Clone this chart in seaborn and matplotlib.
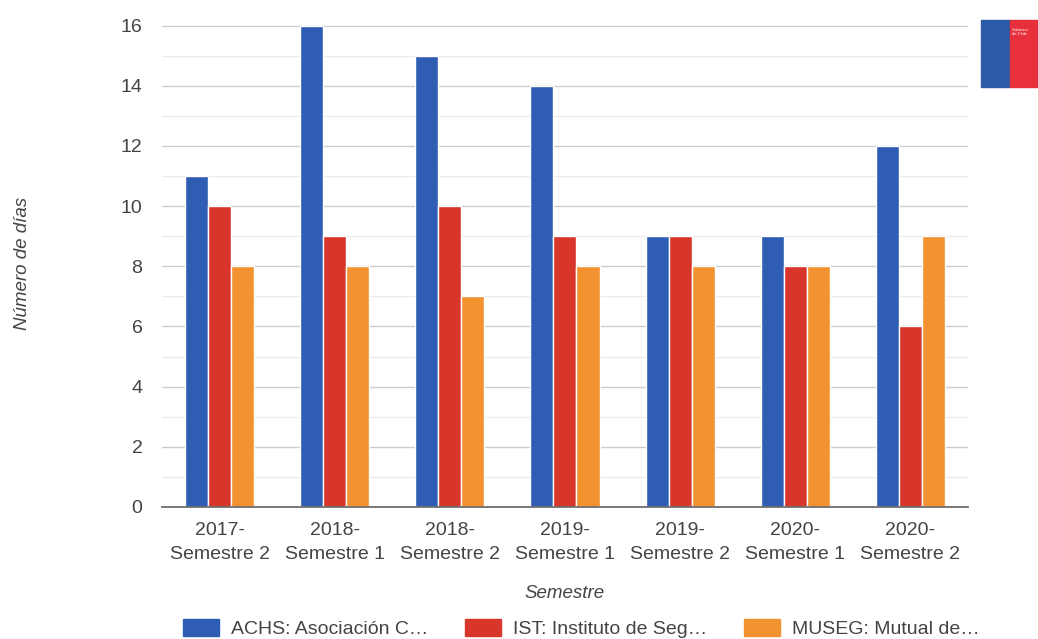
import pandas as pd
import matplotlib.pyplot as plt
import seaborn as sns
from matplotlib.patches import Rectangle

# Data
semestres = ['2017-\nSemestre 2', '2018-\nSemestre 1', '2018-\nSemestre 2', '2019-\nSemestre 1',
             '2019-\nSemestre 2', '2020-\nSemestre 1', '2020-\nSemestre 2']
series_names = ['ACHS: Asociación C…', 'IST: Instituto de Seg…', 'MUSEG: Mutual de…']
achs = [11, 16, 15, 14, 9, 9, 12]
ist = [10, 9, 10, 9, 9, 8, 6]
museg = [8, 8, 7, 8, 8, 8, 9]

colors = ['#2f5db3', '#d8352b', '#f29231']
text_color = '#444444'

# Long-form table for seaborn
rows = []
for name, vals in zip(series_names, [achs, ist, museg]):
    for sem, v in zip(semestres, vals):
        rows.append({'Semestre': sem, 'Mutual': name, 'Dias': v})
df = pd.DataFrame(rows)

sns.set_style('white')
plt.rcParams['font.family'] = ['Liberation Sans', 'DejaVu Sans']

fig = plt.figure(figsize=(10.38, 6.39), dpi=100)
ax = fig.add_axes([0.156, 0.2066, 0.7766, 0.7558])

sns.barplot(data=df, x='Semestre', y='Dias', hue='Mutual', palette=colors,
            width=0.6, saturation=1, ax=ax, legend=False)

ax.set_ylim(0, 16.05)
ax.set_xlim(-0.5, 6.5)
ax.set_yticks(range(0, 17, 2))
ax.set_yticks(range(1, 17, 2), minor=True)
ax.grid(axis='y', which='major', color='#cccccc', linewidth=1.0)
ax.grid(axis='y', which='minor', color='#ebebeb', linewidth=1.0)
ax.set_axisbelow(True)
for s in ['top', 'right', 'left']:
    ax.spines[s].set_visible(False)
ax.spines['bottom'].set_color('#6e6e6e')
ax.spines['bottom'].set_linewidth(1.3)
ax.tick_params(axis='both', which='both', length=0, labelsize=14, colors=text_color)
ax.tick_params(axis='x', pad=11)
ax.tick_params(axis='y', pad=14)
for lbl in ax.get_xticklabels():
    lbl.set_linespacing(1.5)

ax.set_xlabel('Semestre', fontsize=13.5, style='italic', color=text_color, labelpad=16)
ax.set_ylabel('')
fig.text(0.022, 0.588, 'Número de días', rotation=90, fontsize=13.5, style='italic',
         color=text_color, ha='center', va='center')

# legend
handles = [Rectangle((0, 0), 1, 1, color=c) for c in colors]
fig.legend(handles, series_names, loc='center', bbox_to_anchor=(0.56, 0.016),
           ncol=3, frameon=False, fontsize=14, labelcolor=text_color,
           handlelength=1.85, handleheight=0.9, columnspacing=1.9, handletextpad=0.62,
           borderpad=0, borderaxespad=0)

# Gobierno de Chile logo block (top right)
fig.patches.append(Rectangle((981 / 1038, 1 - 87 / 639), 29 / 1038, 67 / 639,
                             transform=fig.transFigure, color='#2a5aa8', zorder=5))
fig.patches.append(Rectangle((1010 / 1038, 1 - 87 / 639), 28 / 1038, 67 / 639,
                             transform=fig.transFigure, color='#e8303c', zorder=5))
fig.text(1012 / 1038, 1 - 32 / 639, 'Gobierno\nde Chile', fontsize=3, color='white',
         ha='left', va='center', zorder=6)

fig.savefig('out.png', dpi=100)
